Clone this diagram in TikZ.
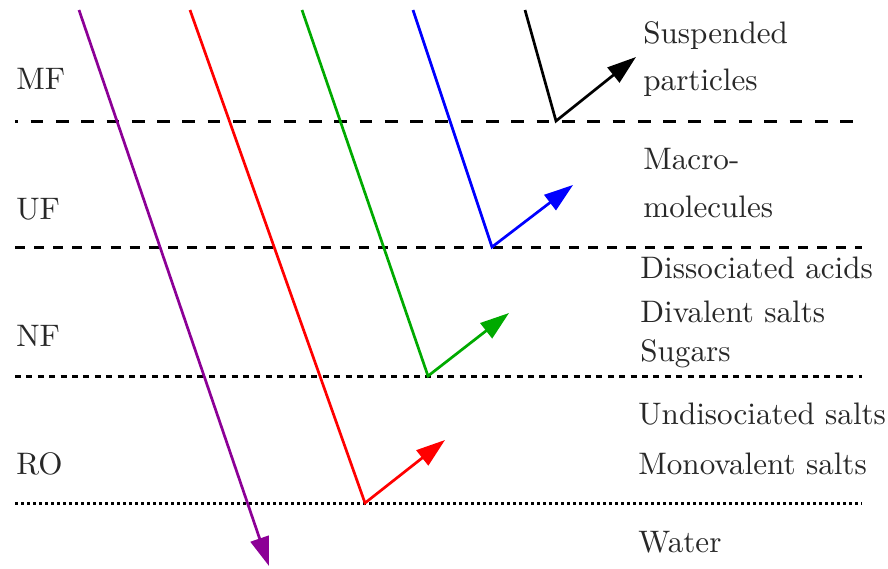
\documentclass[tikz,border=0pt]{standalone}
\usepackage{fontspec}
\setmainfont{lmroman10-regular.otf}
\usetikzlibrary{arrows.meta}
\definecolor{cpurple}{RGB}{140,0,150}
\definecolor{cgreen}{RGB}{0,170,0}
\definecolor{ctext}{RGB}{40,40,40}
\begin{document}
\begin{tikzpicture}[x=0.5pt,y=-0.5pt,
  sep/.style={line width=1.5pt, black},
  mfline/.style={sep, dash pattern=on 6.35pt off 6.3pt, dash phase=4.85pt},
  ufline/.style={sep, dash pattern=on 5pt off 4.55pt},
  nfline/.style={sep, dash pattern=on 3pt off 2.7pt},
  roline/.style={sep, dash pattern=on 1.5pt off 1.5pt},
  flow/.style={line width=1.35pt, line join=miter},
  tip/.style={-{Triangle[length=14.5pt,width=9.5pt]}},
  lbl/.style={anchor=base west, inner sep=0pt, font=\fontsize{15.55}{18}\selectfont, text=ctext}]
\useasboundingbox (0,0) rectangle (888,568);

% separators
\coordinate (mfL) at (15,121); \coordinate (mfR) at (862,121);
\coordinate (ufL) at (15,247); \coordinate (ufR) at (862,247);
\coordinate (nfL) at (15,376); \coordinate (nfR) at (862,376);
\coordinate (roL) at (15,503); \coordinate (roR) at (862,503);
\draw[mfline] (mfL) -- (mfR);
\draw[ufline] (ufL) -- (ufR);
\draw[nfline] (nfL) -- (nfR);
\draw[roline] (roL) -- (roR);

% flows
\coordinate (p0) at (79,10);  \coordinate (p1) at (269,566);
\coordinate (r0) at (190,10); \coordinate (r1) at (365,503); \coordinate (r2) at (445,440);
\coordinate (g0) at (302,10); \coordinate (g1) at (428,376); \coordinate (g2) at (509,313);
\coordinate (b0) at (413,10); \coordinate (b1) at (492,247); \coordinate (b2) at (573,185);
\coordinate (k0) at (525,10); \coordinate (k1) at (556,121); \coordinate (k2) at (636,57);
\draw[flow, cpurple, tip] (p0) -- (p1);
\draw[flow, red, tip] (r0) -- (r1) -- (r2);
\draw[flow, cgreen, tip] (g0) -- (g1) -- (g2);
\draw[flow, blue, tip] (b0) -- (b1) -- (b2);
\draw[flow, black, tip] (k0) -- (k1) -- (k2);

% left labels
\node[lbl] (mf) at (16,89) {MF};
\node[lbl] (uf) at (16,219) {UF};
\node[lbl] (nf) at (16,346) {NF};
\node[lbl] (ro) at (16,474) {RO};

% right labels
\node[lbl] (t1) at (643,43) {Suspended};
\node[lbl] (t2) at (643,90) {particles};
\node[lbl] (t3) at (643,169) {Macro-};
\node[lbl] (t4) at (643,217) {molecules};
\node[lbl] (t5) at (640,278) {Dissociated acids};
\node[lbl] (t6) at (640,322) {Divalent salts};
\node[lbl] (t7) at (640,361) {Sugars};
\node[lbl] (t8) at (638,424) {Undisociated salts};
\node[lbl] (t9) at (638,474) {Monovalent salts};
\node[lbl] (t10) at (638,552) {Water};
\end{tikzpicture}
\end{document}
